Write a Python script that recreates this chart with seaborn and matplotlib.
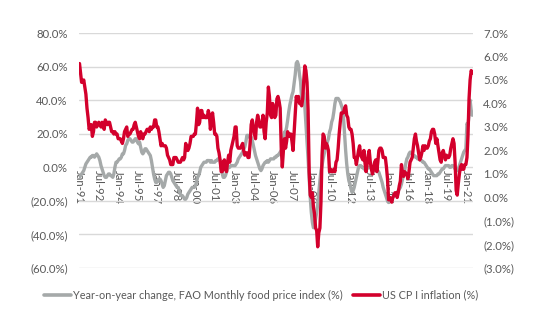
import numpy as np
import pandas as pd
import matplotlib
matplotlib.use("Agg")
import matplotlib.pyplot as plt
import matplotlib.dates as mdates
from matplotlib.ticker import FuncFormatter, FixedLocator
import seaborn as sns

# ---------------- data (monthly, Jan-1991 .. Jul-2021) ----------------
fao_yoy = [  # Year-on-year change, FAO Monthly food price index (%)
    -6, -5, -4, -3, -2, 0, 2, 3, 4, 5, 6, 6,            # 1991
    7, 7, 6, 7, 8, 7, 6, 4, 1, -1, -3, -5,              # 1992
    -6, -6, -5, -4, -4, -5, -5, -6, -4, 0, 3, 3,        # 1993
    4, 5, 5, 6, 8, 8, 10, 13, 14, 16, 17, 17,           # 1994
    16, 15, 15, 16, 17, 17, 15, 14, 15, 12, 9, 8,       # 1995
    9, 11, 11, 10, 9, 8, 7, 4, 0, -4, -7, -9,           # 1996
    -9, -8, -7, -7, -8, -10, -12, -11, -8, -5, -4, -3,  # 1997
    -3, -4, -6, -8, -9, -10, -11, -12, -12, -14, -16, -17,  # 1998
    -17, -18, -19, -19, -18, -16, -15, -14, -13, -12, -12, -12,  # 1999
    -11, -9, -6, -5, -3, 0, 1, 2, 3, 3, 3, 4,           # 2000
    4, 4, 3, 4, 3, 3, 3, 4, 4, 5, 5, 4,                 # 2001
    0, -4, -6, -6, -5, -3, -1, 0, 0, 1, 1, 1,           # 2002
    1, 1, 2, 3, 5, 6, 7, 8, 9, 11, 12, 15,              # 2003
    19, 19, 18, 19, 18, 16, 13, 10, 7, 5, 3, 1,         # 2004
    -1, -2, -1, 1, 2, 3, 3, 4, 3, 4, 5, 5,              # 2005
    5, 5, 6, 6, 7, 7, 8, 9, 10, 12, 16, 21,             # 2006
    21, 24, 28, 33, 37, 40, 43, 45, 50, 55, 62, 63,     # 2007
    61, 55, 51, 41, 47, 44, 36, 25, 15, 5, -7, -18,     # 2008
    -27, -33, -36, -35, -31, -27, -22, -15, -8, -2, 1, 5,  # 2009
    8, 11, 13, 15, 17, 21, 23, 27, 29, 33, 38, 41,      # 2010
    41, 41, 40, 39, 37, 35, 30, 20, 10, 2, -4, -8,      # 2011
    -10, -13, -15, -14, -12, -9, -6, -3, 0, 1, 1, 0,    # 2012
    0, -1, -1, -1, -1, 0, 0, 0, -1, -2, -2, -2,         # 2013
    -2, -2, -2, -3, -5, -7, -9, -12, -14, -16, -18, -20,  # 2014
    -21, -20, -19, -19, -18, -17, -17, -16, -15, -14, -13, -12,  # 2015
    -10, -7, -5, -2, 2, 5, 6, 8, 9, 9, 8, 7,            # 2016
    7, 6, 6, 5, 5, 5, 4, 4, 3, 3, 2, 1,                 # 2017
    0, -1, -1, -2, -3, -4, -5, -5, -5, -5, -4, -4,      # 2018
    -3, -2, -1, -1, 0, 1, 1, 1, 1, 0, 0, 1,             # 2019
    1, 0, -1, -2, -2, -1, 1, 3, 5, 7, 9, 10,            # 2020
    11, 26, 25, 31, 40, 34, 31,                         # 2021
]

us_cpi = [  # US CPI inflation (%)
    5.7, 5.3, 4.9, 4.9, 5.0, 4.7, 4.4, 3.8, 3.4, 2.9, 3.0, 3.1,  # 1991
    2.6, 2.8, 3.2, 3.2, 3.0, 3.1, 3.2, 3.1, 3.0, 3.2, 3.0, 2.9,  # 1992
    3.3, 3.2, 3.1, 3.2, 3.2, 3.0, 2.8, 2.8, 2.7, 2.8, 2.7, 2.7,  # 1993
    2.5, 2.5, 2.5, 2.4, 2.3, 2.5, 2.8, 2.9, 3.0, 2.6, 2.7, 2.7,  # 1994
    2.8, 2.9, 2.9, 3.1, 3.2, 3.0, 2.8, 2.6, 2.5, 2.8, 2.6, 2.5,  # 1995
    2.7, 2.7, 2.8, 2.9, 2.9, 2.8, 3.0, 2.9, 3.0, 3.0, 3.3, 3.3,  # 1996
    3.0, 3.0, 2.8, 2.5, 2.2, 2.3, 2.2, 2.2, 2.2, 2.1, 1.8, 1.7,  # 1997
    1.6, 1.4, 1.4, 1.4, 1.7, 1.7, 1.7, 1.6, 1.5, 1.5, 1.5, 1.6,  # 1998
    1.7, 1.6, 1.7, 2.3, 2.1, 2.0, 2.1, 2.3, 2.6, 2.6, 2.6, 2.7,  # 1999
    2.7, 3.2, 3.8, 3.1, 3.2, 3.7, 3.7, 3.4, 3.5, 3.4, 3.4, 3.4,  # 2000
    3.7, 3.5, 2.9, 3.3, 3.6, 3.2, 2.7, 2.7, 2.6, 2.1, 1.9, 1.6,  # 2001
    1.1, 1.1, 1.5, 1.6, 1.2, 1.1, 1.5, 1.8, 1.5, 2.0, 2.2, 2.4,  # 2002
    2.6, 3.0, 3.0, 2.2, 2.1, 2.1, 2.1, 2.2, 2.3, 2.0, 1.8, 1.9,  # 2003
    1.9, 1.7, 1.7, 2.3, 3.1, 3.3, 3.0, 2.7, 2.5, 3.2, 3.5, 3.3,  # 2004
    3.0, 3.0, 3.1, 3.5, 2.8, 2.5, 3.2, 3.6, 4.7, 4.3, 3.5, 3.4,  # 2005
    4.0, 3.6, 3.4, 3.5, 4.2, 4.3, 4.1, 3.8, 2.1, 1.3, 2.0, 2.5,  # 2006
    2.1, 2.4, 2.8, 2.6, 2.7, 2.7, 2.4, 2.0, 2.8, 3.5, 4.3, 4.1,  # 2007
    4.3, 4.0, 4.0, 3.9, 4.2, 5.0, 5.6, 5.4, 4.9, 3.7, 1.1, 0.1,  # 2008
    0.0, 0.2, -0.4, -0.7, -1.3, -1.4, -2.1, -1.5, -1.3, -0.2, 1.8, 2.7,  # 2009
    2.6, 2.1, 2.3, 2.2, 2.0, 1.1, 1.2, 1.1, 1.1, 1.2, 1.1, 1.5,  # 2010
    1.6, 2.1, 2.7, 3.2, 3.6, 3.6, 3.6, 3.8, 3.9, 3.5, 3.4, 3.0,  # 2011
    2.9, 2.9, 2.7, 2.3, 1.7, 1.7, 1.4, 1.7, 2.0, 2.2, 1.8, 1.7,  # 2012
    1.6, 2.0, 1.5, 1.1, 1.4, 1.8, 2.0, 1.5, 1.2, 1.0, 1.2, 1.5,  # 2013
    1.6, 1.1, 1.5, 2.0, 2.1, 2.1, 2.0, 1.7, 1.7, 1.7, 1.3, 0.8,  # 2014
    -0.1, 0.0, -0.1, -0.2, 0.0, 0.1, 0.2, 0.2, 0.0, 0.2, 0.5, 0.7,  # 2015
    1.4, 1.0, 0.9, 1.1, 1.0, 1.0, 0.8, 1.1, 1.5, 1.6, 1.7, 2.1,  # 2016
    2.5, 2.7, 2.4, 2.2, 1.9, 1.6, 1.7, 1.9, 2.2, 2.0, 2.2, 2.1,  # 2017
    2.1, 2.2, 2.4, 2.5, 2.8, 2.9, 2.9, 2.7, 2.3, 2.5, 2.2, 1.9,  # 2018
    1.6, 1.5, 1.9, 2.0, 1.8, 1.6, 1.8, 1.7, 1.7, 1.8, 2.1, 2.3,  # 2019
    2.5, 2.3, 1.5, 0.3, 0.1, 0.6, 1.0, 1.3, 1.4, 1.2, 1.2, 1.4,  # 2020
    1.4, 1.7, 2.6, 4.2, 5.0, 5.4, 5.3,                            # 2021
]

start_month = "1991-01-01"
tick_labels = ["Jan-91", "Jul-92", "Jan-94", "Jul-95", "Jan-97", "Jul-98", "Jan-00",
               "Jul-01", "Jan-03", "Jul-04", "Jan-06", "Jul-07", "Jan-09", "Jul-10",
               "Jan-12", "Jul-13", "Jan-15", "Jul-16", "Jan-18", "Jul-19", "Jan-21"]
left_ticks = [-60, -40, -20, 0, 20, 40, 60, 80]
right_ticks = [-3, -2, -1, 0, 1, 2, 3, 4, 5, 6, 7]

fao_label = "Year-on-year change, FAO Monthly food price index (%)"
cpi_label = "US CP I inflation (%)"

dates = pd.date_range(start_month, periods=len(fao_yoy), freq="MS")
df = pd.DataFrame({"date": dates, "fao": fao_yoy, "cpi": us_cpi})

# ---------------- style ----------------
sns.set_style("white")
plt.rcParams["font.family"] = ["Lato", "DejaVu Sans"]
txt = "#595959"
grey = "#A5A9A9"
red = "#D3002C"

fig = plt.figure(figsize=(5.5, 3.3), dpi=100)
ax = fig.add_axes([0.1436, 0.188, 0.716, 0.712])
ax2 = ax.twinx()

sns.lineplot(data=df, x="date", y="fao", ax=ax, color=grey, lw=2.4, label=fao_label, legend=False)
sns.lineplot(data=df, x="date", y="cpi", ax=ax2, color=red, lw=2.4, label=cpi_label, legend=False)

# x axis
ax.set_xlim(dates[0] - pd.Timedelta(days=15), dates[-1] + pd.Timedelta(days=15))
tick_dates = [pd.to_datetime(t, format="%b-%y") for t in tick_labels]
ax.xaxis.set_major_locator(FixedLocator(mdates.date2num(tick_dates)))
ax.set_xticklabels(tick_labels)
ax.spines["bottom"].set_position(("data", 0))
for s in ["top", "right", "left", "bottom"]:
    ax.spines[s].set_visible(False)
    ax2.spines[s].set_visible(False)
ax.tick_params(axis="x", length=0, pad=2, labelsize=8.2, labelcolor=txt, labelrotation=270)

# left axis
def pct(v, pos=None):
    return f"{v:.1f}%" if v >= 0 else f"({abs(v):.1f}%)"

ax.set_ylim(-60, 80)
ax.set_yticks(left_ticks)
ax.yaxis.set_major_formatter(FuncFormatter(pct))
ax.tick_params(axis="y", length=0, pad=8, labelsize=8.2, labelcolor=txt)
ax.grid(axis="y", color="#D9D9D9", lw=1)
ax.grid(axis="x", visible=False)
ax.set_xlabel("")
ax.set_ylabel("")

# right axis
ax2.set_ylim(-3, 7)
ax2.set_yticks(right_ticks)
ax2.yaxis.set_major_formatter(FuncFormatter(pct))
ax2.tick_params(axis="y", length=0, pad=7.5, labelsize=8.2, labelcolor=txt)
ax2.grid(False)
ax2.set_ylabel("")

h1, l1 = ax.get_legend_handles_labels()
h2, l2 = ax2.get_legend_handles_labels()
leg = fig.legend(h1 + h2, l1 + l2, loc="center", bbox_to_anchor=(0.475, 0.106), ncol=2,
                 frameon=False, fontsize=7.8, handlelength=2.5, handletextpad=0.2,
                 columnspacing=0.9, labelcolor=txt)
for line in leg.get_lines():
    line.set_linewidth(2.6)

fig.savefig("out.png", dpi=100)
